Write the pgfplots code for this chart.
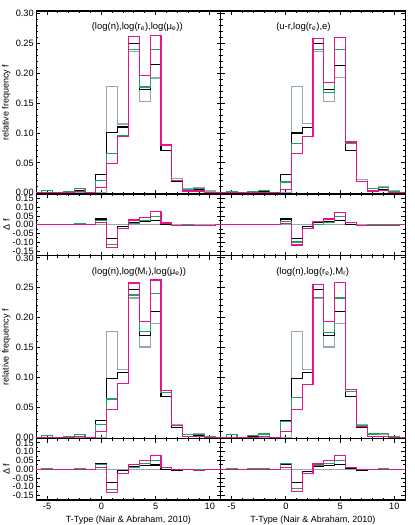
\documentclass[border=0pt]{standalone}
\usepackage{fontspec}
\setmainfont{Liberation Sans}
\usepackage{pgfplots}
\usepackage{pgfplotstable}
\pgfplotsset{compat=1.18}
\definecolor{cgray}{RGB}{148,166,184}
\definecolor{cgreen}{RGB}{30,165,90}
\definecolor{cpink}{RGB}{232,20,140}

% main histograms: T gray black green pink
\pgfplotstableread{
T g k gr p
-7 0 0 0 0
-6 0 0 0 0
-5 0 0 0.004 0
-4 0 0 0 0
-3 0 0.002 0.002 0.001
-2 0 0.004 0.007 0.002
-1 0 0 0 0
0 0 0.031 0.021 0.0095
1 0.178 0.101 0.066 0.049
2 0.115 0.110 0.095 0.094
3 0.236 0.250 0.240 0.261
4 0.153 0.173 0.177 0.196
5 0.192 0.214 0.239 0.263
6 0.070 0.070 0.079 0.080
7 0.024 0.019 0.021 0.021
8 0.007 0.004 0.006 0.003
9 0.0095 0.005 0.007 0.003
10 0.003 0.001 0.001 0.001
11 0 0 0 0
12 0 0 0 0
}\tabA
\pgfplotstableread{
T k gr p
-7 0 0 0
-6 0 0 0
-5 0 0.004 0
-4 0 0 0
-3 0.002 0.002 0.001
-2 0.004 0.007 0.002
-1 0 0 0
0 0.033 0.025 0.012
1 -0.077 -0.112 -0.129
2 -0.010 -0.020 -0.021
3 0.012 0.008 0.027
4 0.019 0.026 0.043
5 0.023 0.048 0.074
6 0.002 0.009 0.010
7 -0.004 -0.003 -0.003
8 -0.003 -0.001 -0.004
9 -0.0045 -0.0025 -0.0065
10 -0.002 -0.002 -0.002
11 0 0 0
12 0 0 0
}\resA
\pgfplotstableread{
T g k gr p
-7 0 0 0 0
-6 0 0 0 0
-5 0 0 0.002 0
-4 0 0 0 0
-3 0 0.001 0.002 0
-2 0 0.002 0.004 0.001
-1 0 0 0 0
0 0 0.031 0.018 0.006
1 0.178 0.100 0.083 0.065
2 0.116 0.109 0.094 0.094
3 0.237 0.250 0.240 0.258
4 0.152 0.172 0.167 0.185
5 0.193 0.213 0.239 0.259
6 0.070 0.070 0.083 0.085
7 0.022 0.019 0.019 0.019
8 0.007 0.004 0.007 0.003
9 0.010 0.005 0.009 0.004
10 0.003 0.001 0.002 0.001
11 0 0 0 0
12 0 0 0 0
}\tabB
\pgfplotstableread{
T k gr p
-7 0 0 0
-6 0 0 0
-5 0 0.002 0
-4 0 0 0
-3 0.001 0.002 0
-2 0.002 0.004 0.001
-1 0 0 0
0 0.033 0.020 0.008
1 -0.080 -0.098 -0.115
2 -0.009 -0.022 -0.022
3 0.013 0.003 0.021
4 0.020 0.015 0.033
5 0.022 0.048 0.068
6 0.001 0.013 0.015
7 -0.003 -0.003 -0.003
8 -0.003 0 -0.004
9 -0.005 -0.001 -0.006
10 -0.002 -0.001 -0.002
11 0 0 0
12 0 0 0
}\resB
\pgfplotstableread{
T g k gr p
-7 0 0 0 0
-6 0 0 0 0
-5 0 0 0.003 0
-4 0 0 0 0
-3 0 0.001 0.001 0
-2 0 0.002 0.004 0.001
-1 0 0 0 0
0 0 0.028 0.022 0.0095
1 0.177 0.099 0.064 0.046
2 0.113 0.108 0.090 0.090
3 0.233 0.247 0.238 0.258
4 0.151 0.170 0.177 0.194
5 0.190 0.211 0.240 0.263
6 0.068 0.068 0.075 0.078
7 0.021 0.017 0.020 0.019
8 0.0045 0.002 0.0045 0.001
9 0.0067 0.003 0.0045 0.001
10 0.002 0 0.001 0
11 0 0 0 0
12 0 0 0 0
}\tabC
\pgfplotstableread{
T k gr p
-7 0 0 0
-6 0 0 0
-5 0 0.003 0
-4 0 0 0
-3 0.001 0.001 0
-2 0.002 0.004 0.001
-1 0 0 0
0 0.033 0.026 0.011
1 -0.076 -0.113 -0.130
2 -0.008 -0.023 -0.024
3 0.014 0.008 0.028
4 0.021 0.032 0.048
5 0.024 0.052 0.078
6 0.001 0.008 0.011
7 -0.004 -0.001 -0.002
8 -0.0025 0 -0.0035
9 -0.0037 -0.0022 -0.0057
10 -0.001 -0.001 -0.001
11 0 0 0
12 0 0 0
}\resC
\pgfplotstableread{
T g k gr p
-7 0 0 0 0
-6 0 0 0 0
-5 0 0 0.004 0
-4 0 0 0 0
-3 0 0.001 0.003 0
-2 0 0.002 0.0056 0.001
-1 0 0 0 0
0 0 0.028 0.027 0.0095
1 0.177 0.099 0.066 0.046
2 0.113 0.108 0.089 0.089
3 0.233 0.247 0.234 0.255
4 0.151 0.170 0.176 0.194
5 0.191 0.211 0.233 0.259
6 0.068 0.068 0.077 0.080
7 0.021 0.016 0.019 0.018
8 0.0045 0.002 0.0056 0.001
9 0.004 0.002 0.0067 0.002
10 0.001 0 0.001 0
11 0 0 0 0
12 0 0 0 0
}\tabD
\pgfplotstableread{
T k gr p
-7 0 0 0
-6 0 0 0
-5 0 0.004 0
-4 0 0 0
-3 0.001 0.003 0
-2 0.002 0.0056 0.001
-1 0 0 0
0 0.027 0.035 0.012
1 -0.075 -0.109 -0.128
2 -0.012 -0.024 -0.025
3 0.014 0.020 0.030
4 0.022 0.032 0.048
5 0.025 0.050 0.078
6 0.002 0.010 0.012
7 -0.004 -0.002 -0.003
8 -0.003 0.001 -0.003
9 -0.003 0.002 -0.003
10 -0.001 0 -0.001
11 0 0 0
12 0 0 0
}\resD

\tikzset{ttl/.style={anchor=west, inner sep=0pt, font=\fontsize{9.5}{11}\selectfont}}
\pgfplotsset{
  base/.style={scale only axis, width=184.5pt, xmin=-6, xmax=11,
    xtick={-5,0,5,10}, minor x tick num=4, tick align=inside,
    major tick length=4pt, minor tick length=2pt,
    every tick/.style={black, line width=0.9pt},
    axis line style={line width=1.2pt},
    tick label style={font=\fontsize{9.2}{10}\selectfont},
    /pgf/number format/assume math mode=true,
    yticklabel style={/pgf/number format/fixed, /pgf/number format/fixed zerofill, /pgf/number format/precision=2, xshift=1pt},
    every axis plot/.append style={const plot mark mid, line width=1.1pt, mark=none},
    ylabel style={font=\fontsize{9}{10}\selectfont},
  },
  main/.style={base, height=183pt, ymin=-0.002, ymax=0.304,
    ytick={0,0.05,0.1,0.15,0.2,0.25,0.3}, minor y tick num=4, xticklabels={}},
  res/.style={base, height=61.5pt, ymin=-0.175, ymax=0.175,
    ytick={-0.15,-0.1,-0.05,0,0.05,0.1,0.15}, minor y tick num=1},
  leftlab/.style={ylabel style={at={(axis description cs:-0.162,0.5)}, anchor=center}},
  xlab/.style={xlabel={T-Type (Nair \& Abraham, 2010)},
    xlabel style={at={(axis description cs:0.5,-0.325)}, anchor=center, font=\fontsize{9}{11}\selectfont}},
}

\begin{document}
\begin{tikzpicture}
\useasboundingbox (0,0) rectangle (415pt,-525pt);

% ---- top-left
\begin{axis}[main, at={(36.2pt,-11pt)}, anchor=north west, leftlab, ylabel={relative frequency f}]
\addplot[cgray] table[x=T,y=g]{\tabA};
\addplot[black] table[x=T,y=k]{\tabA};
\addplot[cgreen] table[x=T,y=gr]{\tabA};
\addplot[cpink] table[x=T,y=p]{\tabA};
\node[ttl] at (axis description cs:0.30,0.91) {(log(n),log(r\textsubscript{e}),log(μ\textsubscript{e}))};
\end{axis}
\begin{axis}[res, at={(36.2pt,-194pt)}, anchor=north west, leftlab, ylabel={Δ f}, xticklabels={}]
\addplot[cgray] coordinates {(-7,0) (12,0)};
\addplot[black] table[x=T,y=k]{\resA};
\addplot[cgreen] table[x=T,y=gr]{\resA};
\addplot[cpink] table[x=T,y=p]{\resA};
\end{axis}

% ---- top-right
\begin{axis}[main, at={(220.7pt,-11pt)}, anchor=north west, yticklabels={}]
\addplot[cgray] table[x=T,y=g]{\tabB};
\addplot[black] table[x=T,y=k]{\tabB};
\addplot[cgreen] table[x=T,y=gr]{\tabB};
\addplot[cpink] table[x=T,y=p]{\tabB};
\node[ttl] at (axis description cs:0.30,0.91) {(u-r,log(r\textsubscript{e}),e)};
\end{axis}
\begin{axis}[res, at={(220.7pt,-194pt)}, anchor=north west, yticklabels={}, xticklabels={}]
\addplot[cgray] coordinates {(-7,0) (12,0)};
\addplot[black] table[x=T,y=k]{\resB};
\addplot[cgreen] table[x=T,y=gr]{\resB};
\addplot[cpink] table[x=T,y=p]{\resB};
\end{axis}

% ---- bottom-left
\begin{axis}[main, at={(36.2pt,-255.5pt)}, anchor=north west, leftlab, ylabel={relative frequency f}]
\addplot[cgray] table[x=T,y=g]{\tabC};
\addplot[black] table[x=T,y=k]{\tabC};
\addplot[cgreen] table[x=T,y=gr]{\tabC};
\addplot[cpink] table[x=T,y=p]{\tabC};
\node[ttl] at (axis description cs:0.30,0.91) {(log(n),log(M\textsubscript{r}),log(μ\textsubscript{e}))};
\end{axis}
\begin{axis}[res, at={(36.2pt,-438.5pt)}, anchor=north west, leftlab, ylabel={Δ f}, xlab]
\addplot[cgray] coordinates {(-7,0) (12,0)};
\addplot[black] table[x=T,y=k]{\resC};
\addplot[cgreen] table[x=T,y=gr]{\resC};
\addplot[cpink] table[x=T,y=p]{\resC};
\end{axis}

% ---- bottom-right
\begin{axis}[main, at={(220.7pt,-255.5pt)}, anchor=north west, yticklabels={}]
\addplot[cgray] table[x=T,y=g]{\tabD};
\addplot[black] table[x=T,y=k]{\tabD};
\addplot[cgreen] table[x=T,y=gr]{\tabD};
\addplot[cpink] table[x=T,y=p]{\tabD};
\node[ttl] at (axis description cs:0.30,0.91) {(log(n),log(r\textsubscript{e}),M\textsubscript{r})};
\end{axis}
\begin{axis}[res, at={(220.7pt,-438.5pt)}, anchor=north west, yticklabels={}, xlab]
\addplot[cgray] coordinates {(-7,0) (12,0)};
\addplot[black] table[x=T,y=k]{\resD};
\addplot[cgreen] table[x=T,y=gr]{\resD};
\addplot[cpink] table[x=T,y=p]{\resD};
\end{axis}
\end{tikzpicture}
\end{document}
